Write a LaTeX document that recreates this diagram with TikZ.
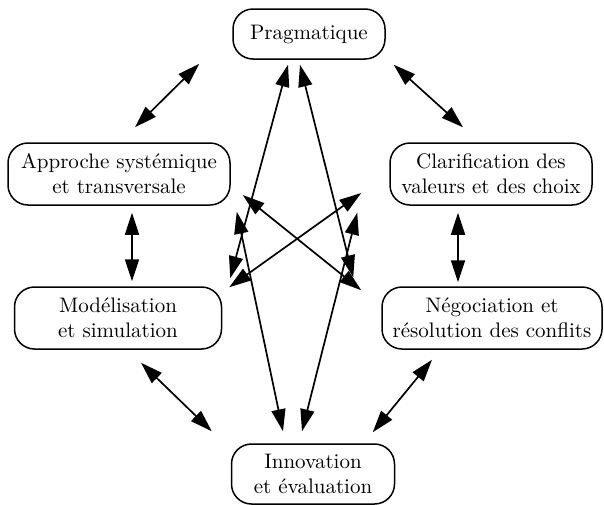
\documentclass[tikz,border=0pt]{standalone}
\usetikzlibrary{arrows.meta}
\begin{document}
\begin{tikzpicture}[x=0.5pt,y=-0.5pt,
  box/.style={draw,line width=0.75pt,rounded corners=10pt,align=center,
    inner sep=0pt,font=\fontsize{10.5}{12.5}\selectfont},
  tip/.style={Triangle[length=11pt,width=7pt]},
  link/.style={line width=0.85pt,{Triangle[length=11pt,width=7pt]}-{Triangle[length=11pt,width=7pt]}}]
\useasboundingbox (0,0) rectangle (604,504);

% themes
\node[box,minimum width=76pt,minimum height=25pt] (P) at (309,34) {Pragmatique};
\node[box,minimum width=111pt,minimum height=31pt] (A) at (119,174) {Approche systémique\\et transversale};
\node[box,minimum width=101pt,minimum height=31pt] (C) at (491,174) {Clarification des\\valeurs et des choix};
\node[box,minimum width=103.5pt,minimum height=31pt] (M) at (118,318) {Modélisation\\et simulation};
\node[box,minimum width=110pt,minimum height=31pt] (N) at (492,318) {Négociation et\\résolution des conflits};
\node[box,minimum width=81.5pt,minimum height=30pt] (I) at (313,474) {Innovation\\et évaluation};

% outer ring
\draw[link] ([shift={(-33,4)}]P.south west) -- ([shift={(16,-15)}]A.north);
\draw[link] ([shift={(8,5)}]P.south east) -- ([shift={(-28,-15)}]C.north);
\draw[link] ([shift={(13,7)}]A.south) -- ([shift={(14,-5)}]M.north);
\draw[link] ([shift={(-33,7)}]C.south) -- ([shift={(-34,-4)}]N.north);
\draw[link] ([shift={(23,13)}]M.south) -- ([shift={(-19,-12)}]I.north west);
\draw[link] ([shift={(-60,10)}]N.south) -- ([shift={(-22.5,-11)}]I.north east);

% inner links
\draw[link] ([shift={(-21,5)}]P.south) -- ([shift={(8,-8)}]M.north east);
\draw[link] ([shift={(-9,5)}]P.south) -- ([shift={(-28,-9)}]N.north west);
\draw[link] ([shift={(6,6)}]A.south east) -- ([shift={(-30,-12)}]I.north);
\draw[link] ([shift={(-32,7)}]C.south west) -- ([shift={(-11,-12)}]I.north);
\draw[link] ([shift={(12,21)}]A.east) -- ([shift={(-20,4)}]N.north west);
\draw[link] ([shift={(-28,19)}]C.west) -- ([shift={(7,1)}]M.north east);
\end{tikzpicture}
\end{document}
